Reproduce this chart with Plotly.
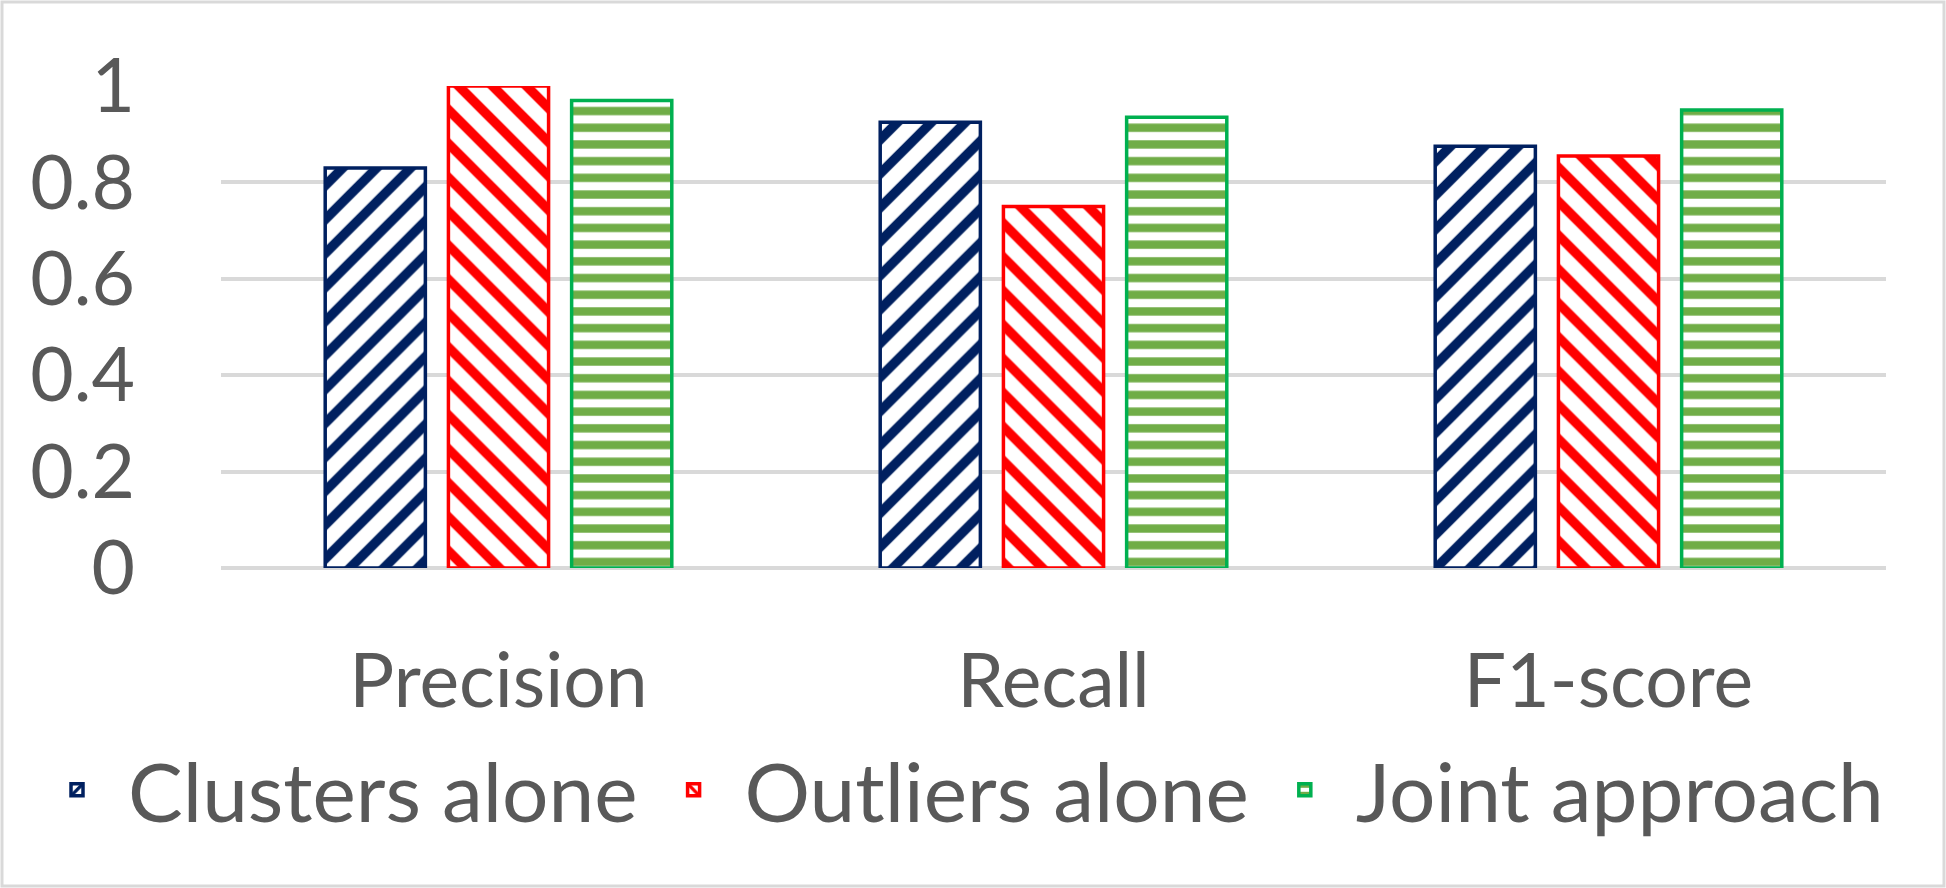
import plotly.graph_objects as go

categories = ["Precision", "Recall", "F1-score"]
series_names = ["Clusters alone", "Outliers alone", "Joint approach"]
clusters_alone = [0.83, 0.925, 0.875]
outliers_alone = [1.0, 0.75, 0.855]
joint_approach = [0.97, 0.935, 0.95]
y_ticks = [0, 0.2, 0.4, 0.6, 0.8, 1]

W, H = 1946, 888
L, R, T, B = 221, 60, 86, 320
pw, ph = W - L - R, H - T - B

FONT = "Lato"
TXT = "#595959"

fig = go.Figure()
styles = [
    (clusters_alone, "#002060", "#002060", "/", 24, 0.4),
    (outliers_alone, "#ff0000", "#ff0000", "\\", 24, 0.4),
    (joint_approach, "#70ad47", "#00b050", "-", 16.7, 0.5),
]
for name, (vals, fg, border, shp, sz, sol) in zip(series_names, styles):
    fig.add_trace(go.Bar(
        x=categories, y=vals, name=name,
        marker=dict(
            color="white",
            line=dict(color=border, width=3.5),
            pattern=dict(shape=shp, fgcolor=fg, bgcolor="white", fgopacity=1,
                         size=sz, solidity=sol, fillmode="overlay"),
        ),
    ))

fig.update_layout(
    width=W, height=H,
    margin=dict(l=L, r=R, t=T, b=B, pad=0, autoexpand=False),
    paper_bgcolor="white", plot_bgcolor="white",
    barmode="group", bargap=0.334, bargroupgap=0.187,
    font=dict(family=FONT, color=TXT, size=75),
    showlegend=True,
    legend=dict(orientation="h",
                x=(26 - L) / pw, xanchor="left",
                y=(568 - 790) / ph, yanchor="middle",
                bgcolor="rgba(0,0,0,0)",
                font=dict(family=FONT, color=TXT, size=82),
                itemwidth=92, tracegroupgap=0),
    xaxis=dict(showgrid=False, showline=False, zeroline=False,
               tickfont=dict(family=FONT, color=TXT, size=75),
               ticks="", ticklabelstandoff=63),
    yaxis=dict(range=[0, 1], tickvals=y_ticks, showgrid=True,
               gridcolor="#d9d9d9", gridwidth=3.5,
               zeroline=True, zerolinecolor="#d9d9d9", zerolinewidth=3.5,
               showline=False, ticks="",
               tickfont=dict(family=FONT, color=TXT, size=75),
               ticklabelstandoff=85),
    shapes=[dict(type="rect", xref="paper", yref="paper",
                 x0=(2 - L) / pw, x1=(W - 2 - L) / pw,
                 y0=-(H - 2 - T - ph) / ph, y1=1 + (T - 2) / ph,
                 line=dict(color="#d9d9d9", width=3), layer="below")],
)

fig.write_html("out.html", config={"displayModeBar": False},
               post_script="document.body.style.margin='0';document.body.style.overflow='hidden';")
